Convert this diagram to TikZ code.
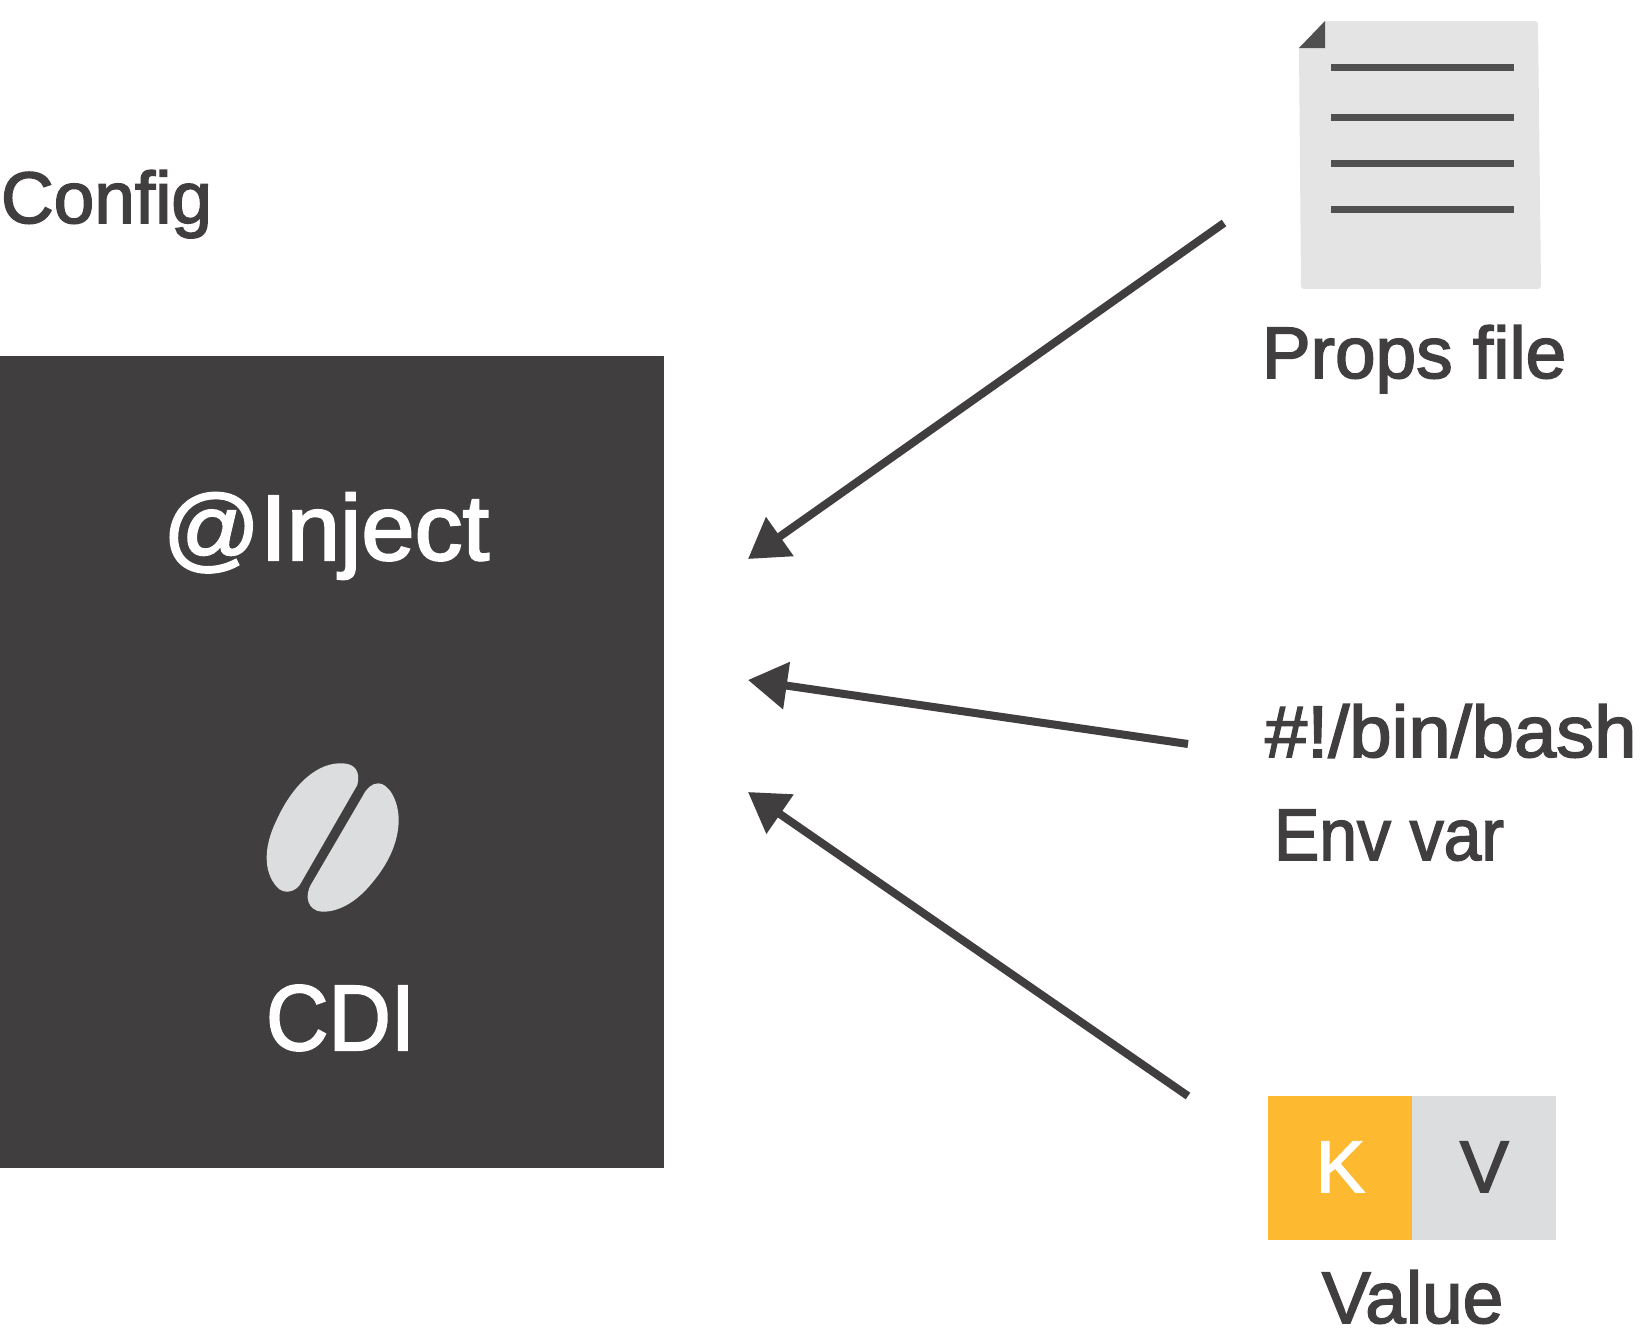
\documentclass[tikz,border=0pt]{standalone}
\usepackage{graphicx}
\usepackage{fontspec}
\setmainfont[FakeBold=2.2]{Liberation Sans}
\usetikzlibrary{arrows.meta}
\definecolor{ink}{HTML}{403E3F}
\definecolor{docfill}{HTML}{E4E4E4}
\definecolor{docink}{HTML}{505050}
\definecolor{pale}{HTML}{DCDDDF}
\definecolor{amber}{HTML}{FDB92F}
\tikzset{
  txt/.style={inner sep=0pt,outer sep=0pt,anchor=base west,text=ink,font=\fontsize{36.5}{40}\selectfont},
  bigtxt/.style={txt,text=white,font=\fontsize{46.5}{50}\selectfont},
  flow/.style={draw=ink,line width=4pt,-{Triangle[length=19.5pt,width=23pt]},shorten >=0pt},
  docline/.style={draw=docink,line width=3.5pt},
}
\begin{document}
\begin{tikzpicture}[x=0.5pt,y=-0.5pt]
\useasboundingbox (0,0) rectangle (1640,1344);
% main box
\fill[ink] (0,356) rectangle (664,1168);
% document
\fill[docfill] (1325,21) -- (1535,21) to[out=0,in=90] (1538,24) -- (1541,286) to[out=-90,in=0] (1538,289) -- (1304,289) to[out=180,in=-90] (1301,286) -- (1299,48) -- cycle;
\fill[docink] (1325,21) -- (1325,48) -- (1299,48) -- cycle;
\foreach \yy in {67,117,163,209}{\draw[docline] (1331,\yy) -- (1514,\yy);}
% bean
\begin{scope}[shift={(240,740)},x=0.16667pt,y=-0.16667pt]
\fill[pale] (310,70) .. controls (345,72) and (362,95) .. (352,135) -- (185,425) .. controls (170,458) and (130,465) .. (110,440) .. controls (70,395) and (70,320) .. (110,240) .. controls (160,130) and (235,65) .. (310,70) -- cycle;
\fill[pale] (415,130) .. controls (445,130) and (476,180) .. (476,240) .. controls (476,310) and (440,378) .. (395,430) .. controls (355,480) and (300,517) .. (245,515) .. controls (205,512) and (190,470) .. (215,430) -- (368,168) .. controls (380,145) and (395,130) .. (415,130) -- cycle;
\end{scope}
% key/value
\node[fill=amber,minimum width=72pt,minimum height=72pt,inner sep=0pt,outer sep=0pt,anchor=north west] (kbox) at (1268,1096) {};
\node[fill=pale,minimum width=72pt,minimum height=72pt,inner sep=0pt,outer sep=0pt,anchor=north west] (vbox) at (1412,1096) {};
% texts
\node[txt] (config) at (1,223) {Config};
\node[txt] (props) at (1262,378) {Props file};
\node[bigtxt] (inject) at (163,560) {\scalebox{1.03}[1]{@Inject}};
\node[bigtxt] (cdi) at (266,1050) {\scalebox{0.93}[1]{CDI}};
\node[txt] (bash) at (1265,757) {\scalebox{1.04}[1]{\#!/bin/bash}};
\node[txt] (env) at (1274,860) {\scalebox{0.93}[1]{Env var}};
\node[txt,text=white] (k) at (1316,1192) {K};
\node[txt] (v) at (1460,1192) {V};
\node[txt] (value) at (1322,1323) {Value};
% arrows
\coordinate (from1) at (1224,223);
\coordinate (to1) at (748,559);
\coordinate (from2) at (1188,744);
\coordinate (to2) at (748,680);
\coordinate (from3) at (1188,1096);
\coordinate (to3) at (748,792);
\draw[flow] (from1) -- (to1);
\draw[flow] (from2) -- (to2);
\draw[flow] (from3) -- (to3);
\end{tikzpicture}
\end{document}
